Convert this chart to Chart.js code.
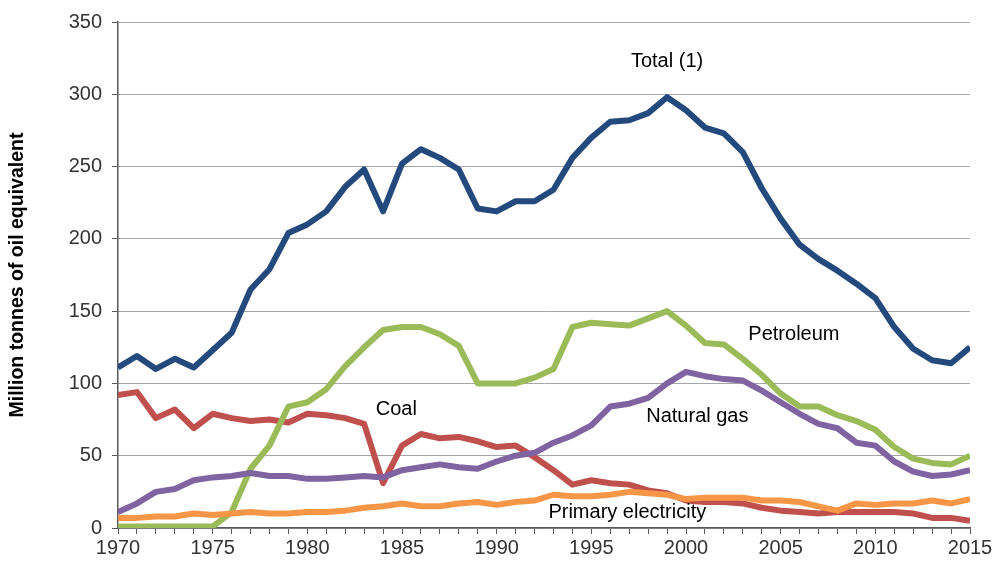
<!DOCTYPE html>
<html>
<head>
<meta charset="utf-8">
<style>
  html, body { margin: 0; padding: 0; background: #ffffff; }
  #wrap { width: 995px; height: 564px; position: relative; }
</style>
<script src="https://cdn.jsdelivr.net/npm/chart.js@4/dist/chart.umd.min.js"></script>
</head>
<body>
<div id="wrap"><canvas id="c" width="995" height="564"></canvas></div>
<script>
const years = [];
for (let y = 1970; y <= 2015; y++) years.push(y);

const total = [111,119,110,117,111,123,135,165,179,204,210,219,236,248,219,252,262,256,248,221,219,226,226,234,256,270,281,282,287,298,289,277,273,260,235,214,196,186,178,169,159,139,124,116,114,125];
const petroleum = [1,1,1,1,1,1,11,41,57,84,87,96,112,125,137,139,139,134,126,100,100,100,104,110,139,142,141,140,145,150,140,128,127,117,106,93,84,84,78,74,68,56,48,45,44,50];
const coal = [92,94,76,82,69,79,76,74,75,73,79,78,76,72,31,57,65,62,63,60,56,57,49,40,30,33,31,30,26,24,19,18,18,17,14,12,11,10,11,11,11,11,10,7,7,5];
const naturalGas = [11,17,25,27,33,35,36,38,36,36,34,34,35,36,35,40,42,44,42,41,46,50,52,59,64,71,84,86,90,100,108,105,103,102,95,87,79,72,69,59,57,46,39,36,37,40];
const electricity = [7,7,8,8,10,9,10,11,10,10,11,11,12,14,15,17,15,15,17,18,16,18,19,23,22,22,23,25,24,23,20,21,21,21,19,19,18,15,12,17,16,17,17,19,17,20];

const yTicks = [0,50,100,150,200,250,300,350];

const labelTexts = ["Total (1)", "Petroleum", "Coal", "Natural gas", "Primary electricity"];
const labelYears = [1999, 2005.7, 1984.7, 2000.6, 1996.9];
const labelValues = [323, 134, 82, 77, 11];

function pts(arr) { return arr.map((v, i) => ({ x: years[i], y: v })); }

const FONT = "'Liberation Sans', Arial, Helvetica, sans-serif";

const labelPlugin = {
  id: 'seriesLabels',
  afterDatasetsDraw(chart) {
    const ctx = chart.ctx;
    const xs = chart.scales.x, ys = chart.scales.y;
    ctx.save();
    ctx.font = "20px " + FONT;
    ctx.fillStyle = "#000000";
    ctx.textAlign = "center";
    ctx.textBaseline = "middle";
    for (let i = 0; i < labelTexts.length; i++) {
      ctx.fillText(labelTexts[i], xs.getPixelForValue(labelYears[i]), ys.getPixelForValue(labelValues[i]));
    }
    ctx.restore();
  }
};

const common = { pointRadius: 0, borderWidth: 6, fill: false, tension: 0, borderJoinStyle: 'round', borderCapStyle: 'butt' };

new Chart(document.getElementById('c'), {
  type: 'line',
  data: {
    datasets: [
      Object.assign({ label: 'Total (1)', data: pts(total), borderColor: '#23497D', order: 1 }, common),
      Object.assign({ label: 'Primary electricity', data: pts(electricity), borderColor: '#F79646', order: 2 }, common),
      Object.assign({ label: 'Natural gas', data: pts(naturalGas), borderColor: '#8064A2', order: 3 }, common),
      Object.assign({ label: 'Petroleum', data: pts(petroleum), borderColor: '#9BBB59', order: 4 }, common),
      Object.assign({ label: 'Coal', data: pts(coal), borderColor: '#C0504D', order: 5 }, common)
    ]
  },
  options: {
    responsive: false,
    animation: false,
    layout: { padding: { left: 0, right: 25, top: 19, bottom: 0 } },
    plugins: { legend: { display: false }, tooltip: { enabled: false } },
    scales: {
      x: {
        type: 'linear',
        min: 1970, max: 2015,
        afterFit(s) { s.height = 36; },
        afterBuildTicks(s) { s.ticks = years.map(v => ({ value: v })); },
        ticks: {
          autoSkip: false,
          maxRotation: 0,
          padding: 2,
          color: '#333333',
          font: { family: FONT, size: 20 },
          callback(v) { return (v % 5 === 0) ? String(v) : ''; }
        },
        grid: { drawOnChartArea: false, drawTicks: true, tickLength: 6, tickColor: '#595959', tickWidth: 1 },
        border: { display: true, color: '#595959', width: 1.5 }
      },
      y: {
        min: 0, max: 350,
        afterFit(s) { s.width = 118; },
        afterBuildTicks(s) { s.ticks = yTicks.map(v => ({ value: v })); },
        ticks: { padding: 10, color: '#333333', font: { family: FONT, size: 20 } },
        grid: { color: '#a6a6a6', lineWidth: 1, drawTicks: true, tickLength: 6, tickColor: '#595959' },
        border: { display: true, color: '#595959', width: 1.5 },
        title: {
          display: true,
          text: 'Million tonnes of oil equivalent',
          color: '#000000',
          font: { family: FONT, size: 19.5, weight: 'bold' },
          padding: { top: 6, bottom: 4 }
        }
      }
    }
  },
  plugins: [labelPlugin]
});
</script>
</body>
</html>
